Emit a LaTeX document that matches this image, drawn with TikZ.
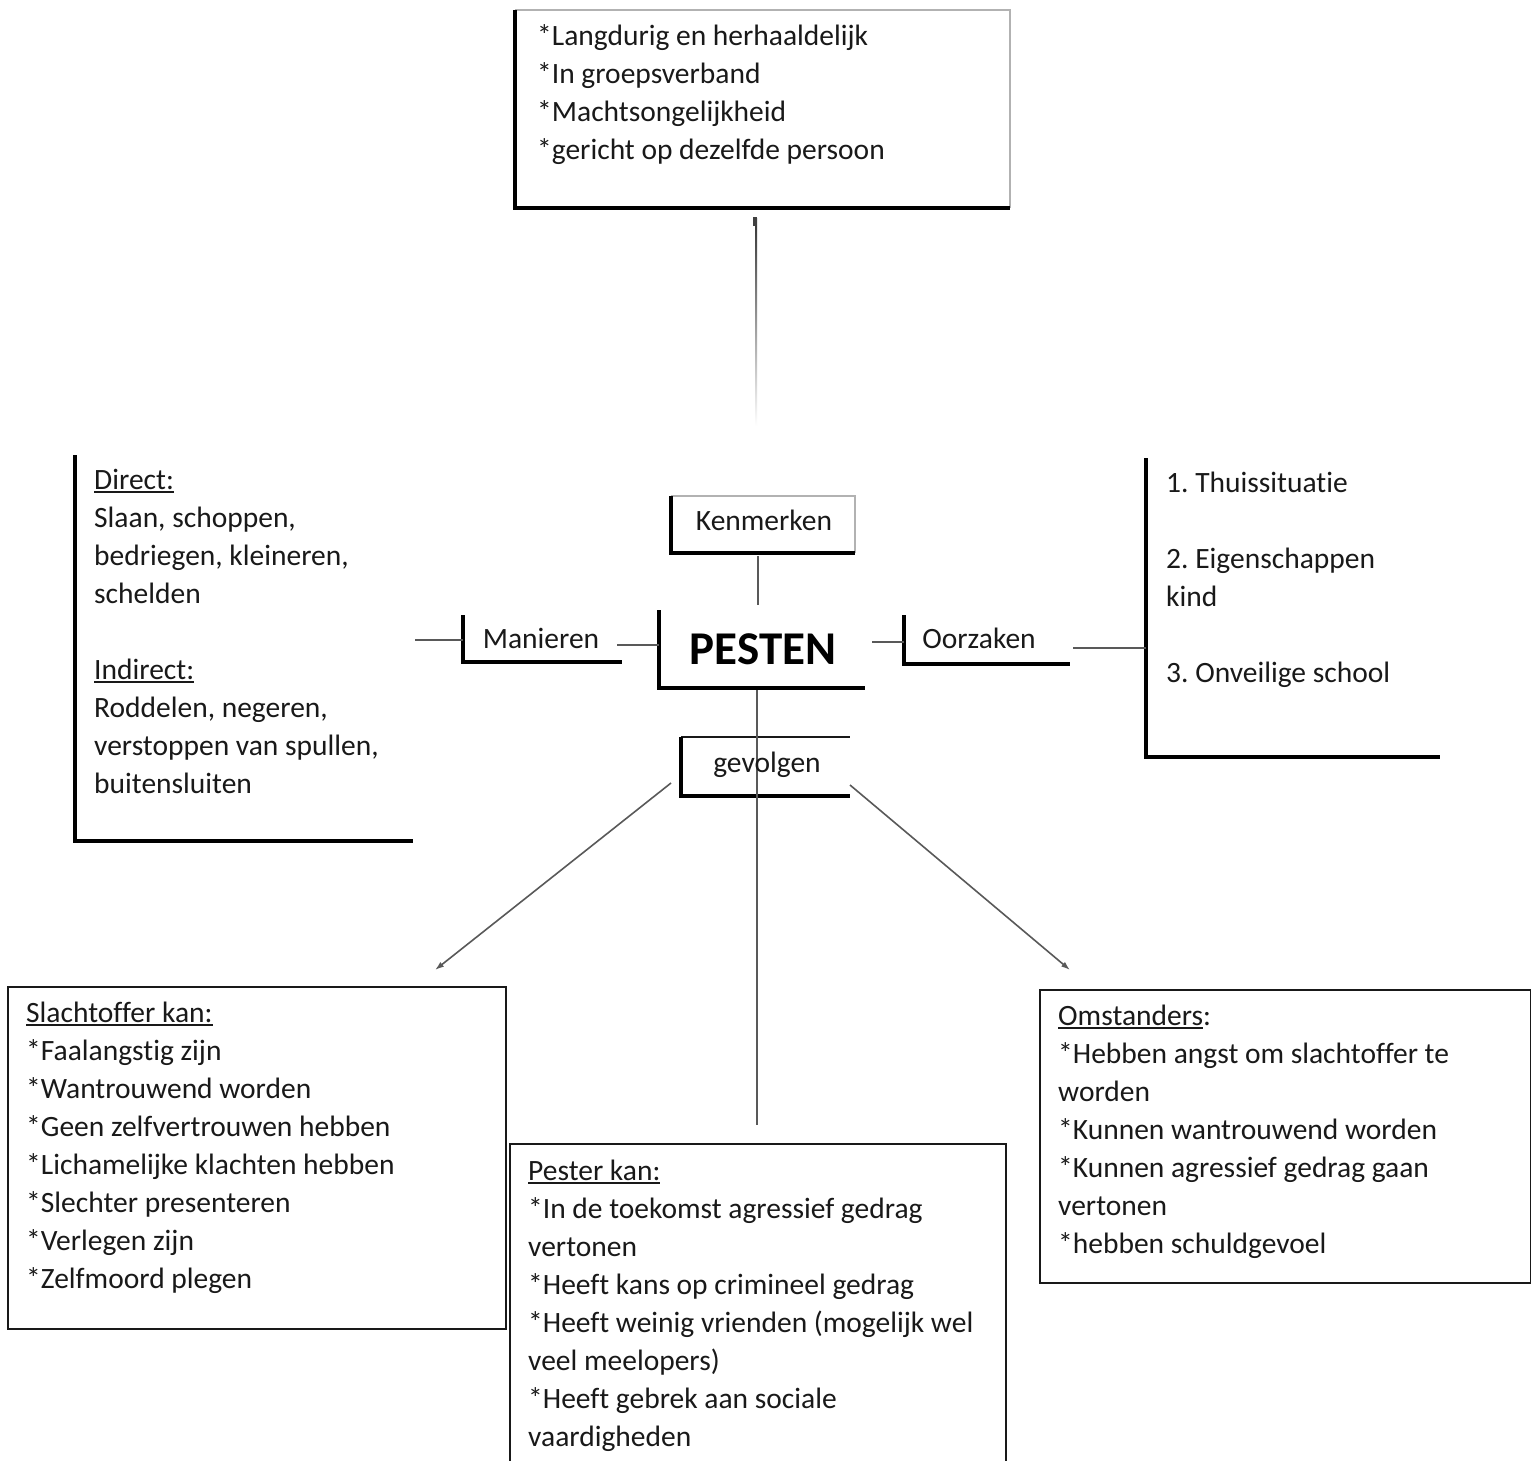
\documentclass[tikz,border=0pt]{standalone}
\usepackage{fontspec}
\setmainfont{Carlito}[Ligatures=CommonOff]
\usetikzlibrary{arrows.meta,calc}
\newcommand\myul[1]{\leavevmode\setbox0\hbox{#1}\rlap{\rule[-3.5pt]{\wd0}{1.6pt}}\box0}
\frenchspacing
\begin{document}
\begin{tikzpicture}[x=1pt,y=-1pt,
  area/.style={inner sep=0pt, outer sep=0pt},
  heavy/.style={line width=4pt, black},
  light/.style={line width=1.5pt, black!30},
  frame/.style={line width=2pt, black!90},
  conn/.style={line width=1.6pt, black!65},
  txt/.style={inner sep=0pt, anchor=north west, align=left, text=black!90, font=\fontsize{29.5}{38}\selectfont},
  lbl/.style={inner sep=0pt, anchor=base, text=black!90, font=\fontsize{29.5}{38}\selectfont},
  tip/.style={-{Latex[length=9pt,width=6pt]}}]
\useasboundingbox (0,0) rectangle (1531,1461);
\fill[white] (0,0) rectangle (1531,1461);

% box areas
\node[area, minimum width=495pt, minimum height=198pt] (toplist) at (762.5,109) {};
\node[area, minimum width=184pt, minimum height=57pt] (kenmerken) at (763,524.5) {};
\node[area, minimum width=206pt, minimum height=78pt] (pesten) at (762,649) {};
\node[area, minimum width=159pt, minimum height=47pt] (manieren) at (542.5,638.5) {};
\node[area, minimum width=166pt, minimum height=49pt] (oorzaken) at (987,639.5) {};
\node[area, minimum width=169pt, minimum height=59pt] (gevolgen) at (765.5,766.5) {};
\node[area, minimum width=338pt, minimum height=386pt] (direct) at (244,648) {};
\node[area, minimum width=294pt, minimum height=299pt] (causes) at (1293,607.5) {};
\node[area, minimum width=498pt, minimum height=342pt] (slacht) at (257,1158) {};
\node[area, minimum width=496pt, minimum height=336pt] (pester) at (758,1312) {};
\node[area, minimum width=491pt, minimum height=293pt] (omst) at (1285.5,1136.5) {};

% borders
\draw[light] (toplist.north west) -- (toplist.north east) -- (toplist.south east);
\draw[heavy] (toplist.north west) -- (toplist.south west) -- (toplist.south east);
\draw[light] (kenmerken.north west) -- (kenmerken.north east) -- (kenmerken.south east);
\draw[heavy] (kenmerken.north west) -- (kenmerken.south west) -- (kenmerken.south east);
\draw[heavy] (pesten.north west) -- (pesten.south west) -- (pesten.south east);
\draw[heavy] (manieren.north west) -- (manieren.south west) -- (manieren.south east);
\draw[heavy] (oorzaken.north west) -- (oorzaken.south west) -- (oorzaken.south east);
\draw[frame] (gevolgen.north west) -- (gevolgen.north east);
\draw[heavy] (gevolgen.north west) -- (gevolgen.south west) -- (gevolgen.south east);
\draw[heavy] (direct.north west) -- (direct.south west) -- (direct.south east);
\draw[heavy] (causes.north west) -- (causes.south west) -- (causes.south east);
\draw[frame] (slacht.north west) rectangle (slacht.south east);
\draw[frame] (pester.north west) rectangle (pester.south east);
\draw[frame] (omst.north west) rectangle (omst.south east);

% connectors
\coordinate (ftop) at ($(toplist.south)+(-6.5,10)$);
\coordinate (fbot) at ($(toplist.south)+(-6.5,218)$);
\shade[top color=black!80, bottom color=white] ($(ftop)+(-1,0)$) rectangle ($(fbot)+(1,0)$);
\fill[black!75] ($(ftop)+(-3,-1)$) rectangle ($(ftop)+(1,8)$);
\draw[conn] ($(kenmerken.south)+(-5,3)$) -- ($(pesten.north)+(-4,-5)$);
\draw[conn] ($(pesten.west)+(0,-4)$) -- ($(manieren.east)+(-5,6.5)$);
\draw[conn] ($(manieren.west)+(0,1.5)$) -- ($(direct.east)+(2,-8)$);
\draw[conn] ($(oorzaken.west)+(0,2.5)$) -- ($(pesten.east)+(7,-7)$);
\draw[conn] ($(oorzaken.east)+(3,8.5)$) -- ($(causes.west)+(0,40.5)$);
\draw[conn] ($(pesten.south)+(-5,2)$) -- ($(pester.north)+(-1,-19)$);
\draw[conn,tip] ($(gevolgen.south west)+(-10,-13)$) -- ($(slacht.north)+(178,-17)$);
\draw[conn,tip] ($(gevolgen.south east)+(0,-11)$) -- ($(omst.north west)+(30,-20)$);

% labels
\node[lbl] (lkenm) at (764,530) {Kenmerken};
\node[lbl, font=\fontsize{47}{50}\selectfont\bfseries, text=black] (lpest) at (763,664) {PESTEN};
\node[lbl] (lman) at (541,648) {Manieren};
\node[lbl] (loor) at (979,648) {Oorzaken};
\node[lbl] (lgev) at (767,772) {gevolgen};

% texts
\node[txt] (ttop) at (537,18.4) {\strut*Langdurig en herhaaldelijk\\*In groepsverband\\*Machtsongelijkheid\\*gericht op dezelfde persoon};
\node[txt] (tdir) at (94,462.4) {\strut\myul{Direct:}\\Slaan, schoppen,\\bedriegen, kleineren,\\schelden\\[38pt]\myul{Indirect:}\\Roddelen, negeren,\\verstoppen van spullen,\\buitensluiten};
\node[txt] (tcau) at (1166,465.4) {\strut 1. Thuissituatie\\[38pt]2. Eigenschappen\\kind\\[38pt]3. Onveilige school};
\node[txt] (tsla) at (26,995.4) {\strut\myul{Slachtoffer kan:}\\*Faalangstig zijn\\*Wantrouwend worden\\*Geen zelfvertrouwen hebben\\*Lichamelijke klachten hebben\\*Slechter presenteren\\*Verlegen zijn\\*Zelfmoord plegen};
\node[txt] (tpes) at (528,1153.4) {\strut\myul{Pester kan:}\\*In de toekomst agressief gedrag\\vertonen\\*Heeft kans op crimineel gedrag\\*Heeft weinig vrienden (mogelijk wel\\veel meelopers)\\*Heeft gebrek aan sociale\\vaardigheden};
\node[txt] (toms) at (1058,998.4) {\strut\myul{Omstanders}:\\*Hebben angst om slachtoffer te\\worden\\*Kunnen wantrouwend worden\\*Kunnen agressief gedrag gaan\\vertonen\\*hebben schuldgevoel};
\end{tikzpicture}
\end{document}
